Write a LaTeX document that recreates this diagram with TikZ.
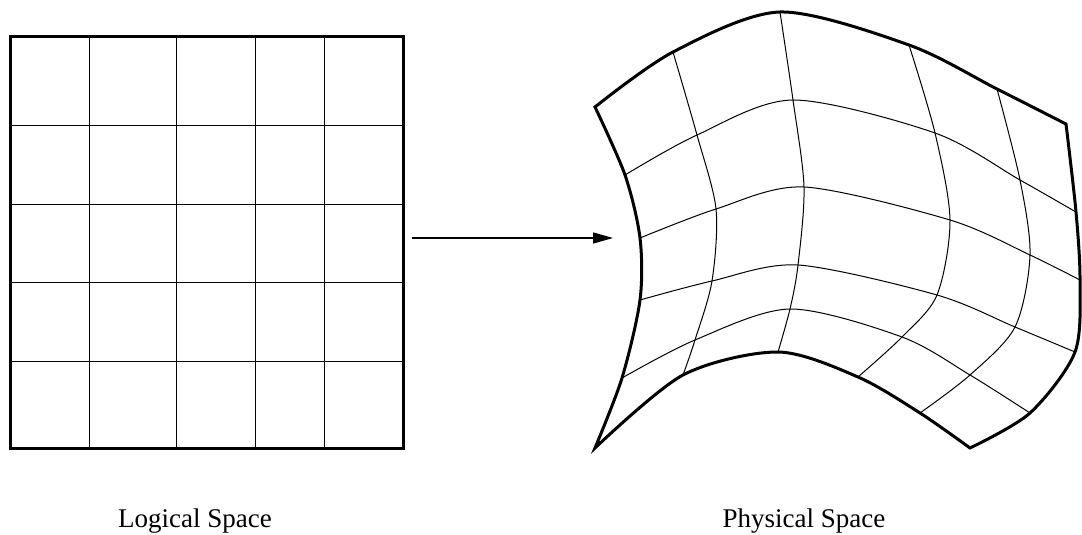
\documentclass[tikz,border=0pt]{standalone}
\usepackage{fontspec}
\setmainfont{Liberation Serif}
\usetikzlibrary{arrows.meta}
\tikzset{
  frame/.style={line width=3pt, line join=miter},
  gridline/.style={line width=1pt},
  label/.style={font=\fontsize{27}{32}\selectfont, anchor=base, inner sep=0pt},
  maparrow/.style={line width=1.3pt, -{Triangle[length=20pt,width=11pt]}}
}
\begin{document}
\begin{tikzpicture}[x=1pt, y=-1pt]
\useasboundingbox (0,0) rectangle (1082,535);

% Logical space: uniform-looking 5x5 grid
\foreach \gx in {89,176,255,324} \draw[gridline] (\gx,37) -- (\gx,448);
\foreach \gy in {125,204,282,361} \draw[gridline] (10,\gy) -- (403,\gy);
\draw[frame] (10,37) rectangle (403,448);

% Physical space: mapped grid points p<col><row>
\foreach \c/\r/\px/\py in {
  0/0/595/107, 1/0/673/52, 2/0/780/12, 3/0/909/45, 4/0/997/89, 5/0/1066/124,
  0/1/625/175, 1/1/697/135, 2/1/793/100, 3/1/935/133, 4/1/1020/180, 5/1/1076/212,
  0/2/640/238, 1/2/716/209, 2/2/804/187, 3/2/950/220, 4/2/1030/255, 5/2/1080/280,
  0/3/640/300, 1/3/712/281, 2/3/798/265, 3/3/937/295, 4/3/1015/327, 5/3/1075/352,
  0/4/622/378, 1/4/695/340, 2/4/790/309, 3/4/902/337, 4/4/970/375, 5/4/1030/413,
  0/5/595/448, 1/5/683/375, 2/5/778/352, 3/5/858/377, 4/5/920/413, 5/5/970/448}
  \coordinate (p\c\r) at (\px,\py);

% interior curvilinear grid lines
\foreach \r in {1,2,3,4}
  \draw[gridline] plot[smooth] coordinates {(p0\r) (p1\r) (p2\r) (p3\r) (p4\r) (p5\r)};
\foreach \c in {1,2,3,4}
  \draw[gridline] plot[smooth] coordinates {(p\c0) (p\c1) (p\c2) (p\c3) (p\c4) (p\c5)};

% boundary of the physical domain
\draw[frame]
  plot[smooth] coordinates {(p00) (p10) (p20) (p30) (p40) (p50)}
  -- plot[smooth] coordinates {(p50) (p51) (p52) (p53) (p54) (p55)}
  -- plot[smooth] coordinates {(p55) (p45) (p35) (p25) (p15) (p05)}
  -- plot[smooth] coordinates {(p05) (p04) (p03) (p02) (p01) (p00)}
  -- cycle;

% mapping arrow
\coordinate (mapfrom) at (412,238);
\coordinate (mapto) at (613,238);
\draw[maparrow] (mapfrom) -- (mapto);

% captions
\node[label] (logical) at (195,527) {Logical Space};
\node[label] (physical) at (804,527) {Physical Space};
\end{tikzpicture}
\end{document}
